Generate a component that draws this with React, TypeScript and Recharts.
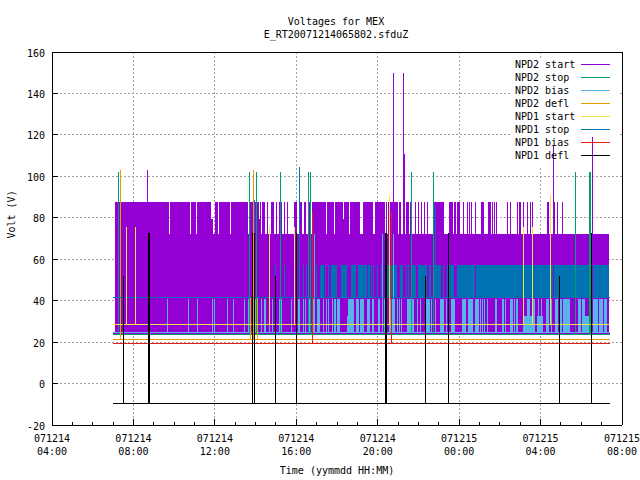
import React from "react";
import {
  Area,
  CartesianGrid,
  ComposedChart,
  Legend,
  Line,
  ReferenceArea,
  XAxis,
  YAxis,
} from "recharts";

const FONT = '"DejaVu Sans Mono", "Liberation Mono", monospace';

const xLabelDates = ["071214", "071214", "071214", "071214", "071214", "071215", "071215", "071215"];
const xLabelTimes = ["04:00", "08:00", "12:00", "16:00", "20:00", "00:00", "04:00", "08:00"];
const xTicks = [0, 1, 2, 3, 4, 5, 6, 7, 8, 9, 10, 11, 12, 13, 14, 15, 16, 17, 18, 19, 20, 21, 22, 23, 24, 25, 26, 27, 28];
const xGridHours = [4, 8, 12, 16, 20, 24];
const yTicks = [-20, 0, 20, 40, 60, 80, 100, 120, 140, 160];
const yGridValues = [0, 20, 40, 60, 80, 100, 120, 140];

const seriesNames = ["NPD2 start", "NPD2 stop", "NPD2 bias", "NPD2 defl", "NPD1 start", "NPD1 stop", "NPD1 bias", "NPD1 defl"];
const seriesColors = ["#9400d3", "#009e73", "#56b4e9", "#e69f00", "#f0e442", "#0072b2", "#e51e10", "#000000"];

const firstHour = 3.0;
const lastHour = 27.42;

// Hours (since 071214 04:00) during which the NPD2 start voltage sat at its upper level.
const startHighRuns: number[][] = [
  [3.1, 5.75], [5.8, 6.78], [6.83, 7.08], [7.13, 7.81], [8.01, 8.14], [8.19, 8.75], [8.8, 9.62], [9.68, 10.16],
  [10.22, 10.27], [10.32, 10.47], [10.58, 10.63], [10.76, 10.91], [11.01, 11.07], [11.15, 11.3], [11.4, 11.45],
  [11.55, 11.6], [11.89, 12.05], [12.19, 12.29], [12.38, 12.48], [12.58, 12.74], [12.78, 13.46], [13.51, 13.86],
  [13.91, 14.29], [14.35, 14.59], [14.64, 15.14], [15.28, 15.77], [15.87, 16.36], [16.41, 16.46], [16.51, 17.0],
  [17.05, 17.15], [17.25, 17.35], [17.4, 17.54], [17.59, 17.69], [17.84, 17.89], [17.98, 18.03], [18.13, 18.18],
  [18.28, 18.33], [18.43, 18.48], [18.72, 19.26], [19.51, 19.56], [19.56, 19.71], [19.75, 19.85], [19.9, 20.05],
  [20.2, 20.25], [20.39, 20.44], [20.49, 20.54], [20.59, 20.64], [20.79, 20.84], [21.08, 21.23], [21.42, 21.57],
  [21.62, 21.67], [21.72, 21.77], [21.82, 21.87], [22.36, 22.41], [22.5, 22.55], [22.85, 22.9], [22.95, 23.05],
  [23.14, 23.19], [23.34, 23.39], [23.49, 23.54], [23.59, 23.64], [24.32, 24.42], [24.62, 24.72], [24.82, 24.86],
  [25.06, 25.11],
];
const startMidRuns: number[][] = [[7.81, 7.91], [10.16, 10.22], [14.29, 14.35]];
const startBodyRuns: number[][] = [[3.1, 27.37]];

const stopLevelRuns: number[][] = [
  [4.08, 4.13], [10.96, 11.01], [11.4, 11.45], [12.33, 12.38], [12.48, 12.51], [12.97, 13.02], [13.17, 13.34],
  [13.42, 13.46], [13.56, 13.61], [13.71, 14.0], [14.2, 14.5], [14.69, 14.94], [15.04, 15.48], [15.53, 15.63],
  [15.68, 15.72], [15.77, 15.82], [15.97, 16.02], [16.17, 16.22], [16.46, 16.95], [17.1, 17.3], [17.4, 17.45],
  [17.49, 17.54], [17.69, 17.89], [17.98, 18.43], [18.53, 18.62], [18.72, 19.12], [19.21, 19.26], [19.41, 19.75],
  [19.9, 20.79], [20.84, 27.37],
];

const biasFullRuns: number[][] = [
  [5.67, 5.72], [6.7, 6.75], [7.14, 7.19], [7.88, 7.93], [7.98, 8.03], [8.61, 8.66], [8.91, 8.96], [9.45, 9.5],
  [9.65, 9.7], [9.99, 10.04], [10.29, 10.34], [10.43, 10.52], [10.66, 10.71], [10.83, 10.87], [11.17, 11.3],
  [11.76, 11.81], [12.1, 12.2], [12.35, 12.4], [12.43, 12.48], [12.64, 12.69], [12.84, 12.89], [13.02, 13.17],
  [13.33, 13.38], [13.46, 13.51], [13.58, 13.63], [13.77, 13.82], [13.86, 13.96], [14.02, 14.15], [14.55, 14.84],
  [14.94, 15.09], [15.14, 15.33], [15.48, 15.63], [15.72, 15.82], [16.02, 16.12], [16.22, 16.27], [16.31, 16.36],
  [16.56, 16.86], [16.95, 17.0], [17.05, 17.1], [17.15, 17.2], [17.25, 17.3], [17.45, 17.64], [17.64, 17.79],
  [17.94, 17.98], [18.08, 18.13], [18.38, 18.58], [18.62, 18.67], [18.72, 18.77], [18.82, 18.87], [19.07, 19.26],
  [19.36, 19.41], [19.61, 19.8], [20.15, 20.34], [20.44, 20.69], [20.79, 20.98], [21.03, 21.08], [21.13, 21.18],
  [21.23, 21.28], [21.38, 21.42], [21.77, 21.87], [22.11, 22.21], [22.26, 22.31], [22.5, 22.65], [22.7, 22.75],
  [22.8, 22.9], [23.34, 23.49], [23.59, 23.73], [23.88, 23.93], [24.03, 24.08], [24.28, 24.42], [24.52, 24.57],
  [24.62, 24.67], [24.72, 24.86], [24.96, 25.06], [25.11, 25.45], [25.7, 25.75], [25.85, 26.0], [26.04, 26.19],
  [26.39, 26.83], [26.88, 27.08], [27.13, 27.27],
];
const biasHalfRuns: number[][] = [[14.5, 14.6], [23.14, 23.34], [23.49, 23.56], [23.83, 24.13], [26.19, 26.39]];

// Spikes: [hour, peak volts]
const npd2StartSpikes: number[][] = [[4.68, 103], [16.77, 150], [17.26, 150], [17.32, 110.8], [24.63, 115], [26.55, 119]];
const npd2StopSpikes: number[][] = [[3.26, 102], [9.68, 102], [10.04, 102], [11.22, 102], [12.59, 102], [12.69, 102], [17.66, 102], [18.74, 102], [25.72, 102], [26.4, 102], [26.44, 102]];
const npd2BiasSpikes: number[][] = [[12.89, 72], [16.23, 72], [16.77, 72]];
const npd2DeflSpikes: number[][] = [[3.36, 103], [9.74, 41.5], [9.89, 103], [10.09, 41.5]];
const npd1StartSpikes: number[][] = [[3.65, 75.5], [4.09, 75.5], [10.68, 75.5], [11.91, 75.5], [16.58, 91], [23.16, 75.5], [23.6, 75.5], [24.49, 91]];
const npd1StopSpikes: number[][] = [[9.94, 88.6], [12.15, 104.5], [18.86, 86]];
const npd1BiasSpikes: number[][] = [[12.79, 83], [16.67, 83]];
const npd1DeflSpikes: number[][] = [[3.5, 52], [4.73, 72.6], [4.77, 52], [4.78, 72.6], [9.84, 72.6], [9.94, 72.6], [10.97, 52], [12.0, 72.6], [16.36, 72.6], [16.43, 72.6], [18.34, 52], [19.47, 72.6], [24.93, 52], [26.5, 72.6]];

const levelLine = (base: number, spikes: number[][]) => [
  { t: firstHour, v: base },
  ...spikes.flatMap(([t, peak]) => [{ t, v: base }, { t, v: peak }, { t, v: base }]),
  { t: lastHour, v: base },
];

const band = (runs: number[][], low: number, high: number) =>
  runs.flatMap(([a, b]) => [{ t: a, v: low }, { t: a, v: high }, { t: b, v: high }, { t: b, v: low }]);

const textStyle = { fontFamily: FONT, fontSize: 10, fill: "#000" };

const BottomTick = (p: any) => {
  const h = p.payload.value;
  const major = h % 4 === 0;
  const i = h / 4;
  return (
    <g>
      {h > 0 && h < 28 ? <line x1={p.x} x2={p.x} y1={p.y} y2={p.y - (major ? 6 : 3)} stroke="#000" /> : null}
      {major ? (
        <>
          <text x={p.x} y={p.y + 17} textAnchor="middle" {...textStyle}>{xLabelDates[i]}</text>
          <text x={p.x} y={p.y + 30} textAnchor="middle" {...textStyle}>{xLabelTimes[i]}</text>
        </>
      ) : null}
    </g>
  );
};
const TopTick = (p: any) => {
  const h = p.payload.value;
  if (h <= 0 || h >= 28) return <g />;
  return <line x1={p.x} x2={p.x} y1={p.y} y2={p.y + (h % 4 === 0 ? 6 : 3)} stroke="#000" />;
};
const LeftTick = (p: any) => {
  const v = p.payload.value;
  return (
    <g>
      {v > -20 && v < 160 ? <line x1={p.x} x2={p.x + 6} y1={p.y} y2={p.y} stroke="#000" /> : null}
      <text x={p.x - 7} y={p.y + 4.5} textAnchor="end" {...textStyle}>{v}</text>
    </g>
  );
};
const RightTick = (p: any) => {
  const v = p.payload.value;
  if (v <= -20 || v >= 160) return <g />;
  return <line x1={p.x} x2={p.x - 6} y1={p.y} y2={p.y} stroke="#000" />;
};

const KeyContent = () => (
  <div style={{ fontFamily: FONT, fontSize: 10, lineHeight: "13px", color: "#000" }}>
    {seriesNames.map((name, i) => (
      <div key={name} style={{ display: "flex", alignItems: "center", height: 13 }}>
        <span style={{ width: 66, whiteSpace: "pre" }}>{name}</span>
        <span style={{ width: 29, height: 1, background: seriesColors[i] }} />
      </div>
    ))}
  </div>
);

const series = [npd2StartSpikes, npd2StopSpikes, npd2BiasSpikes, npd2DeflSpikes, npd1StartSpikes, npd1StopSpikes, npd1BiasSpikes, npd1DeflSpikes];
const baseLevels = [24.3, 23.9, 24.7, 21.4, 28.6, 41.6, 19.4, -9.5];
const drawOrder = [0, 2, 1, 3, 5, 4, 6, 7];

export default function App() {
  return (
    <div style={{ position: "absolute", left: 0, top: 0, width: 640, height: 480, background: "#fff", shapeRendering: "crispEdges" }}>
      <ComposedChart width={640} height={480} margin={{ top: 0, right: 0, bottom: 0, left: 0 }}>
        <text x={336} y={25} textAnchor="middle" {...textStyle}>Voltages for MEX</text>
        <text x={336} y={38} textAnchor="middle" {...textStyle}>E_RT20071214065802.sfduZ</text>
        <CartesianGrid stroke="#a0a0a0" strokeDasharray="2 2" verticalValues={xGridHours} horizontalValues={yGridValues} />
        <XAxis
          dataKey="t"
          type="number"
          domain={[0, 28]}
          ticks={xTicks}
          interval={0}
          height={55}
          tickLine={false}
          tickSize={0}
          tickMargin={0}
          tick={BottomTick}
          axisLine={{ stroke: "#000" }}
          allowDuplicatedCategory
          label={{ value: "Time (yymmdd HH:MM)", position: "insideBottom", offset: 6, ...textStyle, dx: 0 }}
        />
        <XAxis xAxisId="top" orientation="top" dataKey="t" type="number" domain={[0, 28]} ticks={xTicks} interval={0} height={52} tickLine={false} tickSize={0} tickMargin={0} tick={TopTick} axisLine={{ stroke: "#000" }} />
        <YAxis
          type="number"
          domain={[-20, 160]}
          ticks={yTicks}
          interval={0}
          width={52}
          tickLine={false}
          tickSize={0}
          tickMargin={0}
          tick={LeftTick}
          axisLine={{ stroke: "#000" }}
          label={{ value: "Volt (V)", angle: -90, position: "insideLeft", offset: 11, ...textStyle }}
        />
        <YAxis yAxisId="right" orientation="right" type="number" domain={[-20, 160]} ticks={yTicks} interval={0} width={18} tickLine={false} tickSize={0} tickMargin={0} tick={RightTick} axisLine={{ stroke: "#000" }} />
        <ReferenceArea x1={22.5} x2={27.9} y1={104} y2={156} fill="#fff" fillOpacity={1} stroke="none" />
        <Area data={band(startHighRuns, 72, 87.8)} dataKey="v" baseValue={72} type="linear" stroke="none" fill="#9400d3" fillOpacity={1} dot={false} legendType="none" isAnimationActive={false} />
        <Area data={band(startMidRuns, 72, 79.6)} dataKey="v" baseValue={72} type="linear" stroke="none" fill="#9400d3" fillOpacity={1} dot={false} legendType="none" isAnimationActive={false} />
        <Area data={band(startBodyRuns, 24.3, 72)} dataKey="v" baseValue={24.3} type="linear" stroke="none" fill="#9400d3" fillOpacity={1} dot={false} legendType="none" isAnimationActive={false} />
        <Area data={band(stopLevelRuns, 41.6, 57.2)} dataKey="v" baseValue={41.6} type="linear" stroke="none" fill="#0072b2" fillOpacity={1} dot={false} legendType="none" isAnimationActive={false} />
        <Area data={band(biasFullRuns, 24.7, 40.8)} dataKey="v" baseValue={24.7} type="linear" stroke="none" fill="#56b4e9" fillOpacity={1} dot={false} legendType="none" isAnimationActive={false} />
        <Area data={band(biasHalfRuns, 24.7, 32.6)} dataKey="v" baseValue={24.7} type="linear" stroke="none" fill="#56b4e9" fillOpacity={1} dot={false} legendType="none" isAnimationActive={false} />
        {drawOrder.map((i) => (
          <Line
            key={seriesNames[i]}
            name={seriesNames[i]}
            data={levelLine(baseLevels[i], series[i])}
            dataKey="v"
            type="linear"
            stroke={seriesColors[i]}
            strokeWidth={1}
            dot={false}
            activeDot={false}
            isAnimationActive={false}
          />
        ))}
        <Legend
          layout="vertical"
          align="center"
          verticalAlign="middle"
          content={KeyContent}
          wrapperStyle={{ position: "absolute", left: 515, top: 58, width: 100, height: 104 }}
        />
      </ComposedChart>
    </div>
  );
}
